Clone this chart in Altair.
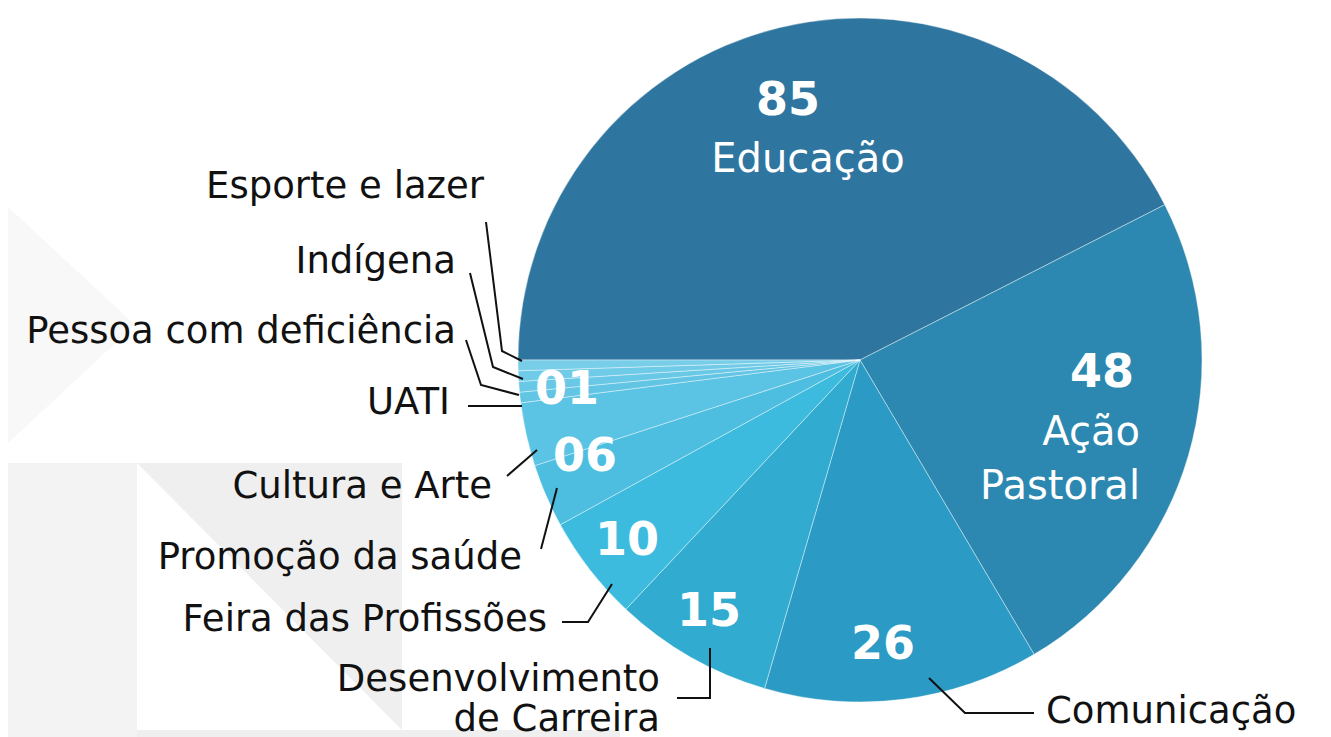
import math
import altair as alt
import pandas as pd

# ---------------- data ----------------
categories = ["Educação", "Ação Pastoral", "Comunicação", "Desenvolvimento de Carreira",
              "Feira das Profissões", "Promoção da saúde", "Cultura e Arte", "UATI",
              "Pessoa com deficiência", "Indígena", "Esporte e lazer"]
values = [85, 48, 26, 15, 10, 6, 6, 1, 1, 1, 1]
colors = ["#2E76A0", "#2C88B0", "#2B9AC4", "#31ABCF", "#3CBBDE", "#4DBEE0",
          "#5BC3E3", "#62C5E4", "#69C8E6", "#70CBE8", "#78CEE9"]
number_labels = ["85", "48", "26", "15", "10", "06", "01"]

# ---------------- layout (page pixels) ----------------
W, H = 1315, 729
FONT = "DejaVu Sans"
CX, CY, R = 860, 360, 342

xs = alt.Scale(domain=[8, 8 + W], nice=False, zero=False)
ys = alt.Scale(domain=[8, 8 + H], nice=False, zero=False, reverse=True)

pie_df = pd.DataFrame({"cat": categories, "value": values, "idx": list(range(len(values)))})

# decorative background shapes
bg_rows = [
    ("a", 8, 207, 443, "#f8f8f8"), ("a", 135, 325, 325, "#f8f8f8"),
    ("b", 8, 463, 737, "#f3f3f3"), ("b", 137, 463, 737, "#f3f3f3"),
    ("c", 137, 463, 463, "#efefef"), ("c", 402, 463, 730, "#efefef"),
    ("d", 137, 730, 737, "#efefef"), ("d", 620, 730, 737, "#efefef"),
]
bg_df = pd.DataFrame(bg_rows, columns=["shape", "x", "y", "y2", "fill"])

# leader lines
leaders = {
    "Esporte e lazer": [(486, 222), (502, 351), (522, 361)],
    "Indígena": [(470, 273), (493, 367), (523, 379)],
    "Pessoa com deficiência": [(466, 340), (481, 385), (519, 395)],
    "UATI": [(468, 406), (522, 406)],
    "Cultura e Arte": [(507, 476), (537, 450)],
    "Promoção da saúde": [(541, 549), (557, 488)],
    "Feira das Profissões": [(562, 622), (588, 622), (612, 584)],
    "Desenvolvimento de Carreira": [(677, 698), (710, 698), (710, 648)],
    "Comunicação": [(929, 678), (965, 713), (1034, 713)],
}
line_rows = []
for k, pts in leaders.items():
    for i, (x, y) in enumerate(pts):
        line_rows.append({"id": k, "seq": i, "x": x, "y": y})
lines_df = pd.DataFrame(line_rows)

out_right = pd.DataFrame([
    ("Esporte e lazer", 484, 187), ("Indígena", 456, 262),
    ("Pessoa com deficiência", 456, 332), ("UATI", 450, 403),
    ("Cultura e Arte", 492, 487), ("Promoção da saúde", 522, 558),
    ("Feira das Profissões", 547, 620), ("Desenvolvimento", 660, 680),
    ("de Carreira", 660, 720),
], columns=["t", "x", "y"])
out_left = pd.DataFrame([("Comunicação", 1046, 712)], columns=["t", "x", "y"])
in_center = pd.DataFrame([("Educação", 808, 160)], columns=["t", "x", "y"])
in_right = pd.DataFrame([("Ação", 1140, 433), ("Pastoral", 1140, 487)], columns=["t", "x", "y"])
nums = pd.DataFrame({
    "t": number_labels,
    "x": [788, 1102, 883, 709, 627, 585, 567],
    "y": [101, 373, 645, 612, 541, 457, 390],
})

X = alt.X("x:Q", scale=xs, axis=None)
Y = alt.Y("y:Q", scale=ys, axis=None)

bg = alt.Chart(bg_df).mark_area(opacity=1).encode(
    x=X, y=Y, y2="y2:Q", detail="shape:N", color=alt.Color("fill:N", scale=None)
)

pie = alt.Chart(pie_df).mark_arc(stroke="white", strokeWidth=0.8, strokeOpacity=0.5).encode(
    theta=alt.Theta("value:Q", stack=True,
                    scale=alt.Scale(range=[1.5 * math.pi, 3.5 * math.pi])),
    order=alt.Order("idx:Q", sort="ascending"),
    color=alt.Color("cat:N", scale=alt.Scale(domain=categories, range=colors), legend=None),
    x=alt.value(CX - 8), y=alt.value(CY - 8), radius=alt.value(R),
)

lines = alt.Chart(lines_df).mark_line(color="#111111", strokeWidth=2).encode(
    x=X, y=Y, detail="id:N", order="seq:Q"
)

def txt(df, align, color, size, weight="normal"):
    return alt.Chart(df).mark_text(align=align, baseline="middle", font=FONT,
                                   fontSize=size, fontWeight=weight, color=color).encode(
        x=X, y=Y, text="t:N")

chart = alt.layer(
    bg, pie, lines,
    txt(out_right, "right", "#111111", 37),
    txt(out_left, "left", "#111111", 37),
    txt(in_center, "center", "white", 40),
    txt(in_right, "right", "white", 40),
    txt(nums, "center", "white", 46, "bold"),
).properties(width=W, height=H, padding=0, autosize=alt.AutoSizeParams(type="none")
).configure_view(stroke=None)

chart.save("out.html", embed_options={"renderer": "svg", "actions": False})
